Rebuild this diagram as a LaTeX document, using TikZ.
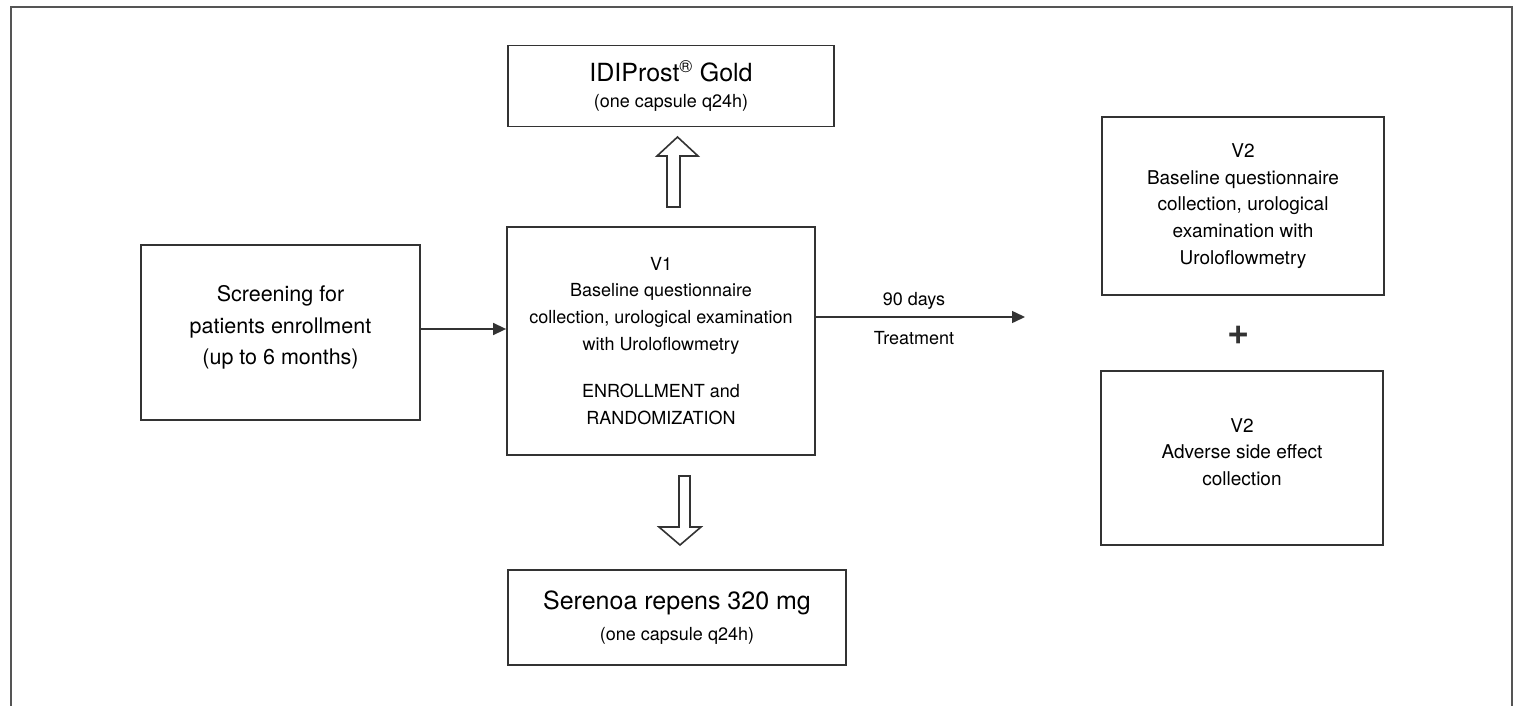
\documentclass[tikz,border=0pt]{standalone}
\usepackage{fontspec}
\setmainfont{TeX Gyre Heros}
\usetikzlibrary{arrows.meta}
\definecolor{ink}{HTML}{333333}
\definecolor{framec}{HTML}{555555}
\tikzset{
  box/.style={draw=ink, line width=1.8pt, rectangle, align=center, inner sep=0pt},
  txt/.style={font=\fontsize{18}{26.7}\selectfont},
  arr/.style={draw=ink, line width=1.5pt, -{Triangle[length=13pt,width=12pt]}},
  blockarrow/.style={draw=ink, line width=1.6pt, fill=white, line join=miter},
}
\begin{document}
\begin{tikzpicture}[x=1pt,y=-1pt]
\useasboundingbox (0,0) rectangle (1514,706);
\fill[white] (0,0) rectangle (1514,706);
% outer frame (open at bottom)
\draw[framec, line width=2pt] (11,706) -- (11,7) -- (1512,7) -- (1512,706);

% boxes
\node[box, minimum width=279pt, minimum height=175pt] (scr) at (280.5,332.5) {};
\node[align=center, font=\fontsize{21.5}{31.5}\selectfont] (scrtext) at ([yshift=5pt]scr.center)
  {Screening for\\patients enrollment\\(up to 6 months)};
\node[box, minimum width=308pt, minimum height=228pt, txt] (v1) at (661,341)
  {V1\\Baseline questionnaire\\collection, urological examination\\with Uroloflowmetry\\[21pt]ENROLLMENT and\\RANDOMIZATION};
\node[box, minimum width=326pt, minimum height=81pt] (top) at (671,86)
  {{\fontsize{25}{31}\selectfont IDIProst\textsuperscript{\textregistered} Gold}\\[11pt]{\fontsize{18}{22}\selectfont (one capsule q24h)}};
\node[box, minimum width=338pt, minimum height=95pt] (bot) at (677,617.5)
  {{\fontsize{25}{31}\selectfont Serenoa repens 320 mg}\\[12pt]{\fontsize{18}{22}\selectfont (one capsule q24h)}};
\node[box, minimum width=282pt, minimum height=178pt, font=\fontsize{19}{26.8}\selectfont] (v2a) at (1243,206)
  {V2\\Baseline questionnaire\\collection, urological\\examination with\\Uroloflowmetry};
\node[box, minimum width=282pt, minimum height=174pt] (v2b) at (1242,458) {};
\node[align=center, font=\fontsize{19}{26.5}\selectfont] (v2btext) at ([yshift=6pt]v2b.center)
  {V2\\Adverse side effect\\collection};
\node[font=\fontsize{38}{40}\selectfont\bfseries, ink] (plus) at (1239,335) {+};

% connectors
\draw[arr] (scr.east |- 0,329) -- (v1.west |- 0,329);
\coordinate (tend) at (1025,317);
\draw[arr] (v1.east |- tend) -- (tend);
\node[txt] (days) at (914,301) {90 days};
\node[txt] (treat) at (914,338) {Treatment};

% hollow block arrows
\draw[blockarrow] (667,207) -- (667,156) -- (657,156) -- (677.5,137) -- (698,156) -- (680,156) -- (680,207) -- cycle;
\draw[blockarrow] (679,476) -- (690,476) -- (690,527) -- (701,527) -- (680,545) -- (659,527) -- (679,527) -- cycle;
\end{tikzpicture}
\end{document}
